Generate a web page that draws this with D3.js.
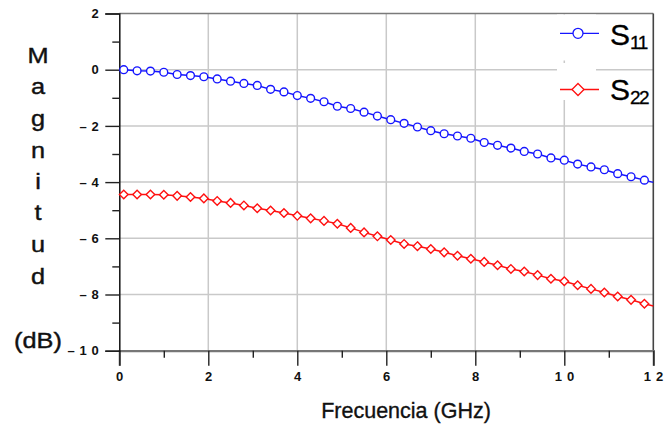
<!DOCTYPE html>
<html>
<head>
<meta charset="utf-8">
<script src="https://cdn.jsdelivr.net/npm/d3@7"></script>
<style>
  html, body { margin: 0; padding: 0; background: #fff; }
  svg { display: block; }
</style>
</head>
<body>
<svg id="chart" width="667" height="433"></svg>
<script>
// Frequency samples (GHz); markers sit on every sample below 12 GHz
const freq = [0.1, 0.4, 0.7, 1.0, 1.3, 1.6, 1.9, 2.2, 2.5, 2.8,
              3.1, 3.4, 3.7, 4.0, 4.3, 4.6, 4.9, 5.2, 5.5, 5.8,
              6.1, 6.4, 6.7, 7.0, 7.3, 7.6, 7.9, 8.2, 8.5, 8.8,
              9.1, 9.4, 9.7, 10.0, 10.3, 10.6, 10.9, 11.2, 11.5, 11.8, 12.0];

// |S11| in dB
const s11 = [0.00, -0.04, -0.05, -0.09, -0.17, -0.21, -0.25, -0.33, -0.41, -0.49,
             -0.56, -0.70, -0.79, -0.92, -1.02, -1.14, -1.30, -1.38, -1.51, -1.65,
             -1.78, -1.91, -2.04, -2.17, -2.28, -2.36, -2.44, -2.59, -2.69, -2.79,
             -2.91, -3.00, -3.14, -3.22, -3.36, -3.46, -3.56, -3.70, -3.81, -3.93, -4.01];

// |S22| in dB
const s22 = [-4.44, -4.44, -4.44, -4.45, -4.49, -4.53, -4.58, -4.67, -4.74, -4.83,
             -4.93, -5.01, -5.10, -5.20, -5.29, -5.38, -5.48, -5.63, -5.79, -5.93,
             -6.06, -6.20, -6.28, -6.38, -6.50, -6.62, -6.73, -6.84, -6.96, -7.09,
             -7.18, -7.31, -7.44, -7.53, -7.67, -7.80, -7.93, -8.07, -8.19, -8.33, -8.41];

const xMajor = [0, 2, 4, 6, 8, 10, 12];
const xMinor = [1, 3, 5, 7, 9, 11];
const yMajor = [2, 0, -2, -4, -6, -8, -10];
const yMinor = [1, -1, -3, -5, -7, -9];

const seriesNames = ["11", "22"];
const seriesColors = ["#1515ff", "#ff1010"];

const FONT = "'Liberation Sans', Arial, sans-serif";

const svg = d3.select("#chart");
svg.append("rect").attr("width", 667).attr("height", 433).attr("fill", "#fff");

const x = d3.scaleLinear().domain([0, 12]).range([119.3, 653.3]);
const y = d3.scaleLinear().domain([-10, 2]).range([350.7, 13.5]);

// tick labels: digits spaced apart, minus written as a separate dash
const fmt = v => {
  const s = String(Math.abs(v)).split("").join(" ");
  return v < 0 ? "\u2013 " + s : s;
};

// grid
const grid = svg.append("g").attr("stroke", "#c9c9c9").attr("stroke-width", 1.5);
grid.selectAll("line.gx").data(xMajor.filter(v => v > 0 && v < 12)).join("line")
  .attr("x1", d => x(d)).attr("x2", d => x(d))
  .attr("y1", y(2)).attr("y2", y(-10));
grid.selectAll("line.gy").data(yMajor.filter(v => v > -10 && v < 2)).join("line")
  .attr("x1", x(0)).attr("x2", x(12))
  .attr("y1", d => y(d)).attr("y2", d => y(d));

// frame: top and right borders
svg.append("line").attr("x1", x(0)).attr("x2", x(12)).attr("y1", y(2)).attr("y2", y(2))
  .attr("stroke", "#7a7a7a").attr("stroke-width", 1.6);
svg.append("line").attr("x1", x(12)).attr("x2", x(12)).attr("y1", y(2)).attr("y2", y(-10))
  .attr("stroke", "#444").attr("stroke-width", 1.6);

const tickFont = g => g.selectAll("text")
  .attr("font-family", FONT)
  .attr("font-weight", "bold")
  .attr("font-size", 13)
  .attr("letter-spacing", 0.6)
  .attr("fill", "#111");

// x axis
const gx = svg.append("g").attr("transform", `translate(0,${y(-10)})`)
  .call(d3.axisBottom(x).tickValues(xMajor).tickFormat(fmt).tickSize(15).tickPadding(6));
gx.select(".domain").attr("stroke", "#777").attr("stroke-width", 2.2);
gx.selectAll(".tick line").attr("stroke", "#222").attr("stroke-width", 1.4);
gx.call(tickFont);
const gxm = svg.append("g").attr("transform", `translate(0,${y(-10)})`)
  .call(d3.axisBottom(x).tickValues(xMinor).tickFormat("").tickSize(7));
gxm.select(".domain").remove();
gxm.selectAll(".tick line").attr("stroke", "#222").attr("stroke-width", 1.4);

// y axis
const gy = svg.append("g").attr("transform", `translate(${x(0)},0)`)
  .call(d3.axisLeft(y).tickValues(yMajor).tickFormat(fmt).tickSize(14).tickPadding(6));
gy.select(".domain").attr("stroke", "#111").attr("stroke-width", 1.5);
gy.selectAll(".tick line").attr("stroke", "#222").attr("stroke-width", 1.4);
gy.call(tickFont);
const gym = svg.append("g").attr("transform", `translate(${x(0)},0)`)
  .call(d3.axisLeft(y).tickValues(yMinor).tickFormat("").tickSize(7));
gym.select(".domain").remove();
gym.selectAll(".tick line").attr("stroke", "#222").attr("stroke-width", 1.4);

// series
const series = [s11, s22];
const line = d3.line().x(d => x(d.f)).y(d => y(d.v));
series.forEach((vals, i) => {
  const pts = freq.map((f, j) => ({ f, v: vals[j] }));
  const g = svg.append("g");
  g.append("path").datum(pts).attr("d", line)
    .attr("fill", "none").attr("stroke", seriesColors[i]).attr("stroke-width", 1.5);
  const marks = pts.filter(p => p.f < 12);
  if (i === 0) {
    g.selectAll("circle").data(marks).join("circle")
      .attr("cx", d => x(d.f)).attr("cy", d => y(d.v)).attr("r", 3.9)
      .attr("fill", "#fff").attr("stroke", seriesColors[i]).attr("stroke-width", 1.4);
  } else {
    g.selectAll("path.m").data(marks).join("path").attr("class", "m")
      .attr("d", d => `M${x(d.f)},${y(d.v) - 4.3}L${x(d.f) + 4.3},${y(d.v)}L${x(d.f)},${y(d.v) + 4.3}L${x(d.f) - 4.3},${y(d.v)}Z`)
      .attr("fill", "#fff").attr("stroke", seriesColors[i]).attr("stroke-width", 1.4);
  }
});

// legend
const lg = svg.append("g");
lg.append("rect").attr("x", 557).attr("y", 14.5).attr("width", 39).attr("height", 46).attr("fill", "#fff");
lg.append("rect").attr("x", 557).attr("y", 63).attr("width", 39).attr("height", 37).attr("fill", "#fff");
const legY = [33.3, 89.5];
const baseY = [45, 100];
seriesNames.forEach((name, i) => {
  lg.append("line").attr("x1", 560).attr("x2", 599).attr("y1", legY[i]).attr("y2", legY[i])
    .attr("stroke", seriesColors[i]).attr("stroke-width", 1.3);
  if (i === 0) {
    lg.append("circle").attr("cx", 578).attr("cy", legY[i]).attr("r", 5)
      .attr("fill", "#fff").attr("stroke", seriesColors[i]).attr("stroke-width", 1.3);
  } else {
    lg.append("path").attr("d", `M578,${legY[i] - 6}L584,${legY[i]}L578,${legY[i] + 6}L572,${legY[i]}Z`)
      .attr("fill", "#fff").attr("stroke", seriesColors[i]).attr("stroke-width", 1.3);
  }
  const t = lg.append("text").attr("x", 610).attr("y", baseY[i])
    .attr("font-family", FONT).attr("fill", "#000")
    .attr("stroke", "#000").attr("stroke-width", 0.3);
  t.append("tspan").attr("font-size", 30).text("S");
  t.append("tspan").attr("font-size", 19).attr("dy", 4).attr("letter-spacing", -1.5).text(name);
});

// axis titles
svg.append("text").attr("x", 406).attr("y", 418).attr("text-anchor", "middle")
  .attr("font-family", FONT).attr("font-size", 21.5)
  .attr("fill", "#111").attr("stroke", "#111").attr("stroke-width", 0.35)
  .text("Frecuencia (GHz)");

const yTitle = "Magnitud".split("");
const yBase = [63, 94, 126, 158, 189, 220, 252, 284];
const yt = svg.append("g").attr("transform", "translate(38,0) scale(1.15,1)")
  .attr("font-family", FONT).attr("font-size", 22)
  .attr("fill", "#111").attr("stroke", "#111").attr("stroke-width", 0.4);
yt.selectAll("text").data(yTitle).join("text")
  .attr("x", 0).attr("y", (d, i) => yBase[i]).attr("text-anchor", "middle")
  .text(d => d);
yt.append("text").attr("x", 0).attr("y", 348).attr("text-anchor", "middle")
  .text("(dB)");
</script>
</body>
</html>
